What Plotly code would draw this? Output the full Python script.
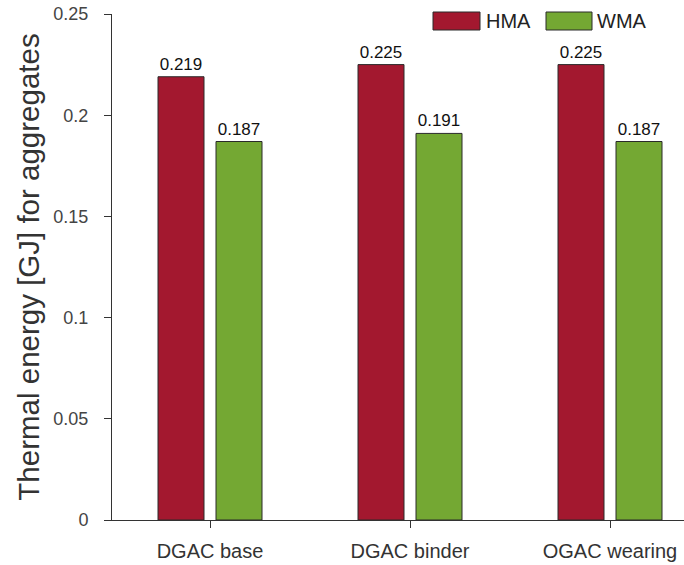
import plotly.graph_objects as go

categories = ["DGAC base", "DGAC binder", "OGAC wearing"]
hma = [0.219, 0.225, 0.225]
wma = [0.187, 0.191, 0.187]
series_names = ["HMA", "WMA"]
colors = ["#A3182F", "#74A833"]
ytick_vals = [0, 0.05, 0.1, 0.15, 0.2, 0.25]
ytick_text = ["0", "0.05", "0.1", "0.15", "0.2", "0.25"]

FONT = "Liberation Sans, Arial, sans-serif"
L, T, B = 112, 14, 45
W, H = 684, 565
PW = W - L
PH = H - T - B

fig = go.Figure()
for vals, name, col, off in [(hma, series_names[0], colors[0], -0.26), (wma, series_names[1], colors[1], 0.03)]:
    fig.add_trace(go.Bar(
        x=categories, y=vals, name=name, width=0.23, offset=off,
        marker=dict(color=col, line=dict(color="#2a2a2a", width=1)),
        text=[f"{v:.3f}" for v in vals], textposition="outside",
        textfont=dict(size=17, color="#111", family=FONT),
        cliponaxis=False, showlegend=False,
    ))

def px_x(x):
    return (x - L) / PW

def px_y(y):
    return (H - B - y) / PH

leg = [(433, 480, 484, series_names[0], colors[0]), (546, 592, 595, series_names[1], colors[1])]
for x0, x1, tx, name, col in leg:
    fig.add_shape(type="rect", xref="paper", yref="paper",
                  x0=px_x(x0), x1=px_x(x1), y0=px_y(30), y1=px_y(12),
                  fillcolor=col, line=dict(color="#2a2a2a", width=1))
    fig.add_annotation(xref="paper", yref="paper", x=px_x(tx), y=px_y(21),
                       text=name, showarrow=False, xanchor="left", yanchor="middle",
                       font=dict(size=20, color="#222", family=FONT))

fig.update_layout(
    width=W, height=H, margin=dict(l=L, r=0, t=T, b=B),
    plot_bgcolor="white", paper_bgcolor="white",
    font=dict(family=FONT, color="#333"),
    xaxis=dict(type="category", range=[-0.49, 2.37], showline=True, linecolor="#333", linewidth=1,
               ticks="outside", ticklen=7, tickcolor="#333", tickfont=dict(size=20, color="#333"),
               ticklabelstandoff=6, showgrid=False, zeroline=False),
    yaxis=dict(range=[0, 0.25], tickvals=ytick_vals, ticktext=ytick_text, showline=True,
               linecolor="#333", linewidth=1, ticks="outside", ticklen=7, tickcolor="#333",
               tickfont=dict(size=18, color="#444"), ticklabelstandoff=12, ticklabeloverflow="allow",
               showgrid=False, zeroline=False,
               title=dict(text="Thermal energy [GJ] for aggregates", font=dict(size=29.5, color="#333"), standoff=5)),
)
fig.write_html("out.html", config={"displayModeBar": False},
               post_script="document.body.style.margin='0';")
